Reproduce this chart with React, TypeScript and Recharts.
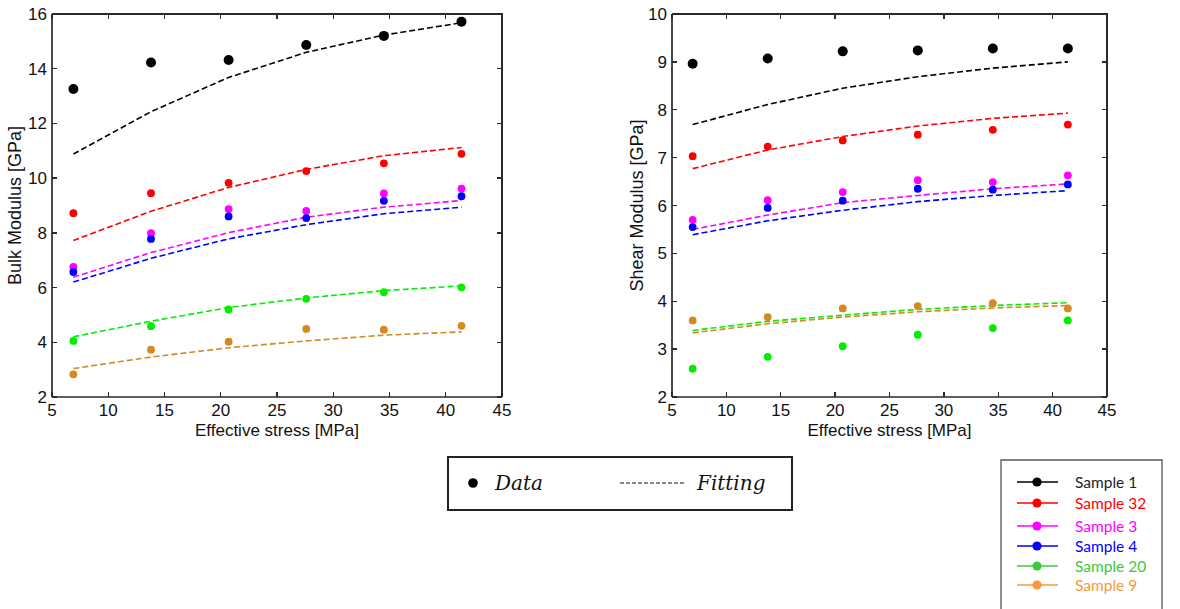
import React from 'react';
import { ComposedChart, Line, XAxis, YAxis } from 'recharts';

// ---------- data ----------
const stress = [6.9, 13.8, 20.7, 27.6, 34.5, 41.4];
const xTicks = [5, 10, 15, 20, 25, 30, 35, 40, 45];
const bulkTicks = [2, 4, 6, 8, 10, 12, 14, 16];
const shearTicks = [2, 3, 4, 5, 6, 7, 8, 9, 10];

const sampleKeys = ['s1', 's32', 's3', 's4', 's20', 's9'];
const sampleNames = ['Sample 1', 'Sample 32', 'Sample 3', 'Sample 4', 'Sample 20', 'Sample 9'];
const chartColors = ['#000000', '#ff0000', '#ff00ff', '#0000ff', '#00ee00', '#d38a1e'];
const legendColors = ['#000000', '#ff0000', '#ff00ff', '#0000ff', '#3cc83c', '#f7993a'];
const legendTextColors = ['#222222', '#ff0000', '#ff00ff', '#0000ff', '#3cc83c', '#f7993a'];

// Bulk modulus – measured
const bulkData1 = [13.26, 14.23, 14.32, 14.87, 15.2, 15.72];
const bulkData32 = [8.72, 9.45, 9.83, 10.26, 10.54, 10.89];
const bulkData3 = [6.76, 7.99, 8.87, 8.8, 9.44, 9.62];
const bulkData4 = [6.57, 7.78, 8.6, 8.54, 9.17, 9.34];
const bulkData20 = [4.05, 4.59, 5.2, 5.59, 5.83, 6.01];
const bulkData9 = [2.83, 3.73, 4.02, 4.49, 4.46, 4.6];
// Bulk modulus – fitting
const bulkFit1 = [10.88, 12.43, 13.68, 14.6, 15.23, 15.68];
const bulkFit32 = [7.72, 8.79, 9.66, 10.32, 10.82, 11.12];
const bulkFit3 = [6.38, 7.28, 8.01, 8.57, 8.94, 9.18];
const bulkFit4 = [6.2, 7.07, 7.78, 8.3, 8.7, 8.94];
const bulkFit20 = [4.2, 4.77, 5.27, 5.62, 5.89, 6.06];
const bulkFit9 = [3.04, 3.46, 3.8, 4.05, 4.26, 4.38];

// Shear modulus – measured
const shearData1 = [8.96, 9.07, 9.22, 9.24, 9.28, 9.28];
const shearData32 = [7.03, 7.23, 7.36, 7.48, 7.58, 7.69];
const shearData3 = [5.7, 6.11, 6.28, 6.53, 6.49, 6.63];
const shearData4 = [5.55, 5.95, 6.1, 6.35, 6.33, 6.44];
const shearData20 = [2.59, 2.84, 3.06, 3.3, 3.44, 3.6];
const shearData9 = [3.6, 3.67, 3.85, 3.9, 3.96, 3.85];
// Shear modulus – fitting
const shearFit1 = [7.69, 8.11, 8.45, 8.69, 8.87, 9.0];
const shearFit32 = [6.77, 7.16, 7.44, 7.66, 7.82, 7.93];
const shearFit3 = [5.5, 5.8, 6.06, 6.21, 6.35, 6.45];
const shearFit4 = [5.39, 5.68, 5.9, 6.08, 6.21, 6.31];
const shearFit20 = [3.39, 3.58, 3.71, 3.83, 3.91, 3.97];
const shearFit9 = [3.34, 3.53, 3.67, 3.78, 3.86, 3.91];

const bulkDataSets = [bulkData1, bulkData32, bulkData3, bulkData4, bulkData20, bulkData9];
const bulkFitSets = [bulkFit1, bulkFit32, bulkFit3, bulkFit4, bulkFit20, bulkFit9];
const shearDataSets = [shearData1, shearData32, shearData3, shearData4, shearData20, shearData9];
const shearFitSets = [shearFit1, shearFit32, shearFit3, shearFit4, shearFit20, shearFit9];

function buildRows(dataSets: number[][], fitSets: number[][]) {
  return stress.map((x, i) => {
    const row: Record<string, number> = { x };
    sampleKeys.forEach((k, j) => {
      row['d_' + k] = dataSets[j][i];
      row['f_' + k] = fitSets[j][i];
    });
    return row;
  });
}

const bulkRows = buildRows(bulkDataSets, bulkFitSets);
const shearRows = buildRows(shearDataSets, shearFitSets);

// ---------- styling ----------
const AXIS = '#2a2a2a';
const FONT = '"Liberation Sans", Arial, sans-serif';
const CHART_H = 450;
const M_TOP = 14;
const M_BOTTOM = 8;
const X_AXIS_H = 45;
const M_RIGHT = 23;
const PLOT_H = CHART_H - M_TOP - M_BOTTOM - X_AXIS_H;
const TICK = 5;
const X_MIN = 5;
const X_MAX = 45;

// MATLAB-style box: top/right borders plus inward ticks on all four sides (CSS boxes)
function CssFrame(props: { left: number; plotW: number; yTicks: number[] }) {
  const { left, plotW, yTicks } = props;
  const yMin = yTicks[0];
  const yMax = yTicks[yTicks.length - 1];
  const sx = (v: number) => left + ((v - X_MIN) / (X_MAX - X_MIN)) * plotW;
  const sy = (v: number) => M_TOP + ((yMax - v) / (yMax - yMin)) * PLOT_H;
  const top = M_TOP;
  const bottom = M_TOP + PLOT_H;
  const right = left + plotW;
  const box = (key: string, l: number, t: number, w: number, h: number) => (
    <div key={key} style={{ position: 'absolute', left: l, top: t, width: w, height: h, background: AXIS }} />
  );
  const items: React.ReactNode[] = [];
  xTicks.forEach((t) => {
    items.push(box('xb' + t, sx(t) - 0.7, bottom - TICK, 1.4, TICK));
    items.push(box('xt' + t, sx(t) - 0.7, top, 1.4, TICK));
  });
  yTicks.forEach((t) => {
    items.push(box('yl' + t, left, sy(t) - 0.7, TICK, 1.4));
    items.push(box('yr' + t, right - TICK, sy(t) - 0.7, TICK, 1.4));
  });
  items.push(box('top', left, top - 0.85, plotW + 0.85, 1.7));
  items.push(box('right', right - 0.85, top - 0.85, 1.7, PLOT_H + 0.85));
  return <div style={{ position: 'absolute', left: 0, top: 0, width: 0, height: 0, zIndex: 6 }}>{items}</div>;
}

function Panel(props: {
  left: number;
  width: number;
  yWidth: number;
  rows: any[];
  yTicks: number[];
  yTitle: string;
  yTitleX: number;
}) {
  const { left, width, yWidth, rows, yTicks, yTitle, yTitleX } = props;
  const yMin = yTicks[0];
  const yMax = yTicks[yTicks.length - 1];
  const plotW = width - yWidth - M_RIGHT;
  const cy = M_TOP + PLOT_H / 2;
  return (
    <div style={{ position: 'absolute', left, top: 0, width, height: CHART_H }}>
      <ComposedChart
        width={width}
        height={CHART_H}
        data={rows}
        margin={{ top: M_TOP, right: M_RIGHT, bottom: M_BOTTOM, left: 0 }}
      >
        <XAxis
          dataKey="x"
          type="number"
          domain={[X_MIN, X_MAX]}
          ticks={xTicks}
          interval={0}
          height={X_AXIS_H}
          tickLine={false}
          tickSize={0}
          tickMargin={7}
          axisLine={{ stroke: AXIS, strokeWidth: 1.7 }}
          tick={{ fill: '#111', fontSize: 17, fontFamily: FONT }}
        />
        <YAxis
          type="number"
          domain={[yMin, yMax]}
          ticks={yTicks}
          interval={0}
          width={yWidth}
          tickLine={false}
          tickSize={0}
          tickMargin={5}
          axisLine={{ stroke: AXIS, strokeWidth: 1.7 }}
          tick={{ fill: '#111', fontSize: 17, fontFamily: FONT }}
        />
        {sampleKeys.map((k, j) => (
          <Line
            key={'f' + k}
            dataKey={'f_' + k}
            type="linear"
            stroke={chartColors[j]}
            strokeWidth={1.6}
            strokeDasharray="6 3"
            dot={false}
            activeDot={false}
            isAnimationActive={false}
          />
        ))}
        {sampleKeys.map((k, j) => (
          <Line
            key={'d' + k}
            dataKey={'d_' + k}
            type="linear"
            stroke="none"
            strokeWidth={0}
            dot={{ r: j === 0 ? 5 : 3.9, fill: chartColors[j], stroke: 'none' }}
            activeDot={false}
            isAnimationActive={false}
          />
        ))}
      </ComposedChart>
      <svg style={{ position: 'absolute', left: 0, top: 0, zIndex: 5 }} width={width} height={CHART_H}>
        <text
          x={yTitleX}
          y={cy}
          transform={`rotate(-90 ${yTitleX} ${cy})`}
          textAnchor="middle"
          dominantBaseline="central"
          fontFamily={FONT}
          fontSize={18}
          fill="#111"
        >
          {yTitle}
        </text>
        <text x={yWidth + plotW / 2} y={436} textAnchor="middle" fontFamily={FONT} fontSize={17} fill="#111">
          Effective stress [MPa]
        </text>
      </svg>
      <CssFrame left={yWidth} plotW={plotW} yTicks={yTicks} />
    </div>
  );
}

function StyleLegend() {
  return (
    <svg style={{ position: 'absolute', left: 447, top: 456 }} width={347} height={56}>
      <rect x={1} y={1} width={344} height={53} fill="#fff" stroke="#222" strokeWidth={2} />
      <circle cx={26} cy={27} r={4.8} fill="#000" />
      <text x={48} y={34} fontFamily='"DejaVu Serif", serif' fontStyle="italic" fontSize={20} fill="#111">
        Data
      </text>
      <line x1={173} y1={27} x2={238} y2={27} stroke="#111" strokeWidth={1.2} strokeDasharray="4 2" />
      <text x={250} y={34} fontFamily='"DejaVu Serif", serif' fontStyle="italic" fontSize={20} fill="#111">
        Fitting
      </text>
    </svg>
  );
}

function SampleLegend() {
  const rowY = [482, 503, 526, 546, 566, 585];
  return (
    <svg style={{ position: 'absolute', left: 1000, top: 459 }} width={164} height={150}>
      <path d="M1 150 L1 1 L162 1 L162 150" fill="#fff" stroke="#555" strokeWidth={1.3} />
      {sampleNames.map((name, j) => {
        const y = rowY[j] - 459;
        return (
          <g key={name}>
            <line x1={17} y1={y} x2={58} y2={y} stroke={legendColors[j]} strokeWidth={1.6} />
            <circle cx={37} cy={y} r={4.6} fill={legendColors[j]} />
            <text
              x={75}
              y={y}
              dominantBaseline="central"
              fontFamily="Lato, sans-serif"
              fontSize={15.5}
              fill={legendTextColors[j]}
            >
              {name}
            </text>
          </g>
        );
      })}
    </svg>
  );
}

export default function App() {
  return (
    <div style={{ position: 'absolute', left: 0, top: 0, width: 1180, height: 609, background: '#fff', overflow: 'hidden' }}>
      <Panel left={0} width={525} yWidth={52} rows={bulkRows} yTicks={bulkTicks} yTitle="Bulk Modulus [GPa]" yTitleX={15} />
      <Panel left={600} width={530} yWidth={72} rows={shearRows} yTicks={shearTicks} yTitle="Shear Modulus [GPa]" yTitleX={37} />
      <StyleLegend />
      <SampleLegend />
    </div>
  );
}
